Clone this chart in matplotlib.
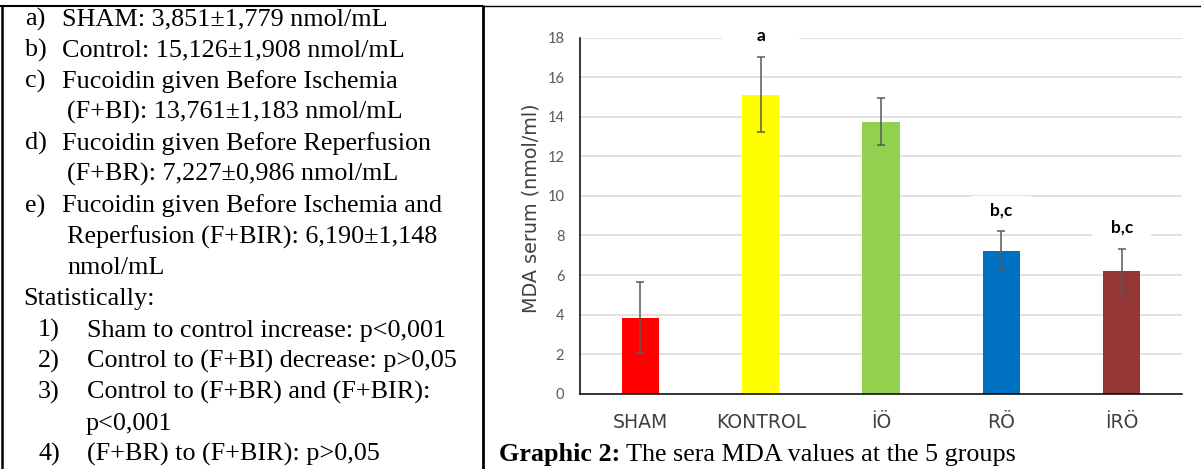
import matplotlib
matplotlib.use("Agg")
import matplotlib.pyplot as plt
from matplotlib.patches import Rectangle
from matplotlib.lines import Line2D

# ---- data -------------------------------------------------------------
groups = ["SHAM", "KONTROL", "İÖ", "RÖ", "İRÖ"]
mda_mean = [3.851, 15.126, 13.761, 7.227, 6.190]
mda_sd = [1.779, 1.908, 1.183, 0.986, 1.148]
sig_labels = ["", "a", "", "b,c", "b,c"]
bar_colors = ["#ff0000", "#ffff00", "#92d050", "#0070c0", "#943634"]
y_ticks = [0, 2, 4, 6, 8, 10, 12, 14, 16, 18]

group_notes = [
    ("a)", ["SHAM: 3,851±1,779 nmol/mL"]),
    ("b)", ["Control: 15,126±1,908 nmol/mL"]),
    ("c)", ["Fucoidin given Before Ischemia",
            "(F+BI): 13,761±1,183 nmol/mL"]),
    ("d)", ["Fucoidin given Before Reperfusion",
            "(F+BR): 7,227±0,986 nmol/mL"]),
    ("e)", ["Fucoidin given Before Ischemia and",
            "Reperfusion (F+BIR): 6,190±1,148",
            "nmol/mL"]),
]
stats_heading = "Statistically:"
stats_notes = [
    ("1)", ["Sham to control increase: p<0,001"]),
    ("2)", ["Control to (F+BI) decrease: p>0,05"]),
    ("3)", ["Control to (F+BR) and (F+BIR):", "p<0,001"]),
    ("4)", ["(F+BR) to (F+BIR): p>0,05"]),
]
caption_bold = "Graphic 2:"
caption_rest = " The sera MDA values at the 5 groups"

# ---- figure / pixel helpers ------------------------------------------
W, H = 1201, 469
fig = plt.figure(figsize=(W / 100, H / 100), dpi=100)


def fx(px):
    return px / W


def fy(py):
    return 1 - py / H


SERIF = "Liberation Serif"
BODY_SIZE = 18.8
LINE_STEP = 31.1
FIRST_BASE = 25.5

# ---- table frame -----------------------------------------------------
frame = dict(color="black", solid_capstyle="butt")
fig.add_artist(Line2D([fx(0), fx(483)], [fy(6.3), fy(6.3)], lw=1.5, **frame))
fig.add_artist(Line2D([fx(483), fx(1201)], [fy(5.8), fy(5.8)], lw=1.0, **frame))
fig.add_artist(Line2D([fx(1.5), fx(1.5)], [fy(5.3), fy(469)], lw=1.8, **frame))
fig.add_artist(Line2D([fx(483.3), fx(483.3)], [fy(5.3), fy(469)], lw=2.0, **frame))

# ---- left cell text --------------------------------------------------
row = 0


def put(px, text):
    fig.text(fx(px), fy(FIRST_BASE + row * LINE_STEP), text,
             family=SERIF, fontsize=BODY_SIZE, va="baseline", ha="left",
             color="black")


for marker, lines in group_notes:
    put(25, marker)
    for k, line in enumerate(lines):
        put(62 if k == 0 else 67, line)
        row += 1

put(23, stats_heading)
row += 1

for marker, lines in stats_notes:
    put(38, marker)
    for k, line in enumerate(lines):
        put(87 if k == 0 else 86, line)
        row += 1

# ---- chart -----------------------------------------------------------
ax_l, ax_r, ax_b, ax_t = 580.3, 1182.0, 393.7, 37.7
ax = fig.add_axes([fx(ax_l), fy(ax_b), fx(ax_r) - fx(ax_l), fy(ax_t) - fy(ax_b)])

x = list(range(len(groups)))
ax.bar(x, mda_mean, width=0.31, color=bar_colors, zorder=2)
ax.errorbar(x, mda_mean, yerr=mda_sd, fmt="none", ecolor="#595959",
            elinewidth=1.1, capsize=3, capthick=1.1, zorder=3)

ax.set_xlim(-0.5, len(groups) - 0.5)
ax.set_ylim(0, 18)
ax.set_yticks(y_ticks)
ax.set_xticks(x)
ax.set_xticklabels(groups, family="DejaVu Sans", fontsize=13.6, color="#404040")
for lab in ax.get_yticklabels():
    lab.set_family("Lato")
    lab.set_fontsize(10.5)
    lab.set_color("#595959")
ax.tick_params(axis="y", length=0, pad=11.5)
ax.tick_params(axis="x", length=0, pad=14)

ax.set_axisbelow(True)
ax.yaxis.grid(True, color="#d9d9d9", linewidth=1.1)
for side in ("top", "right"):
    ax.spines[side].set_visible(False)
for side in ("left", "bottom"):
    ax.spines[side].set_color("black")
    ax.spines[side].set_linewidth(1.1)

# significance letters on white label boxes
for xi, m, s, lab in zip(x, mda_mean, mda_sd, sig_labels):
    if not lab:
        continue
    yc = m + s + 1.05
    bw = 0.64 if len(lab) == 1 else 0.49
    ax.add_patch(Rectangle((xi - bw / 2, yc - 0.72), bw, 1.44,
                           facecolor="white", edgecolor="none",
                           zorder=1, clip_on=False))
    ax.text(xi, yc, lab, ha="center", va="center", family="Lato",
            fontsize=12.5, fontweight="bold", color="black", zorder=4)

fig.text(fx(531), fy(208), "MDA serum (nmol/ml)", rotation=90,
         ha="center", va="center", family="DejaVu Sans", fontsize=13.8,
         color="#404040")

# ---- caption ---------------------------------------------------------
cap_y = fy(FIRST_BASE + 14 * LINE_STEP)
t1 = fig.text(fx(499), cap_y, caption_bold, family=SERIF, fontsize=BODY_SIZE,
              fontweight="bold", va="baseline", ha="left")
renderer = fig.canvas.get_renderer()
bb = t1.get_window_extent(renderer=renderer)
fig.text(bb.x1 / W, cap_y, caption_rest, family=SERIF, fontsize=BODY_SIZE,
         va="baseline", ha="left")

fig.savefig("out.png", dpi=100)
